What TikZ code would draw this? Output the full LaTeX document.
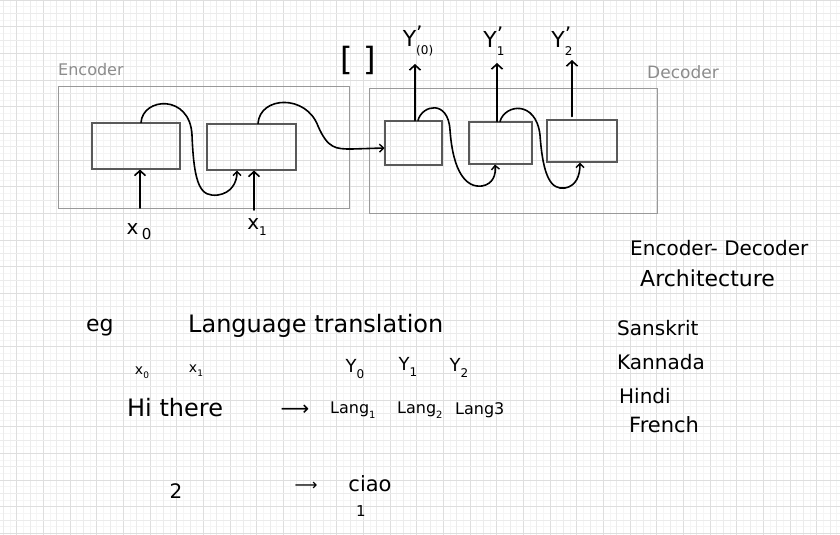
\documentclass[tikz,border=0pt]{standalone}
\usepackage{fontspec}
\setmainfont{DejaVu Sans}
\usetikzlibrary{arrows.meta}
\newcommand\fs[1]{\fontsize{#1}{#1}\selectfont}
\newcommand\yp[1]{Y\rlap{\raisebox{.3em}{\fs{20}\char"0027}}\raisebox{-.35em}{\fs{12}#1}}
\begin{document}
\begin{tikzpicture}[x=1pt,y=-1pt,
  gfine/.style={draw=black!4, line width=.5pt},
  gmid/.style={draw=black!8, line width=.7pt},
  gmaj/.style={draw=black!13, line width=.9pt},
  outer/.style={draw=black!40, line width=1pt},
  cell/.style={draw=black!65, line width=1.1pt, inner sep=0pt},
  hand/.style={draw=black, line width=1.6pt, line cap=round, line join=round},
  uparrow/.style={hand, -{Straight Barb[length=5pt,width=11pt,line width=1.6pt]}},
  curvearrow/.style={hand, -{Straight Barb[length=4pt,width=8pt,line width=1.4pt]}},
  txt/.style={inner sep=0pt, text=black},
  gtxt/.style={inner sep=0pt, text=black!45}]
\useasboundingbox (0,0) rectangle (840,535);
\fill[white] (0,0) rectangle (840,535);
% grid
\begin{scope}
\clip (0,0) rectangle (840,535);
\foreach \k in {0,...,126}{
  \pgfmathsetmacro\xx{-3.333+6.6667*\k}
  \draw[gfine] (\xx,0) -- (\xx,535);}
\foreach \k in {0,...,81}{
  \pgfmathsetmacro\yy{6.6667*\k}
  \draw[gfine] (0,\yy) -- (840,\yy);}
\foreach \k in {0,...,63}{
  \pgfmathsetmacro\xx{3.333+13.333*\k}
  \pgfmathtruncatemacro\m{mod(\k,2)}
  \ifnum\m=1 \draw[gmaj] (\xx,0) -- (\xx,535); \else \draw[gmid] (\xx,0) -- (\xx,535); \fi}
\foreach \k in {0,...,41}{
  \pgfmathsetmacro\yy{13.333*\k}
  \pgfmathtruncatemacro\m{mod(\k,2)}
  \ifnum\m=0 \draw[gmaj] (0,\yy) -- (840,\yy); \else \draw[gmid] (0,\yy) -- (840,\yy); \fi}
\end{scope}

% encoder / decoder frames
\node[outer, inner sep=0pt, minimum width=291pt, minimum height=122pt] (enc) at (203.5,147) {};
\node[outer, inner sep=0pt, minimum width=288pt, minimum height=125pt] (dec) at (513,150.5) {};
\node[gtxt, anchor=west] (enclab) at (58,70) {\fs{16}Encoder};
\node[gtxt, anchor=west] (declab) at (647,72) {\fs{17}Decoder};

% cells
\node[cell, minimum width=88pt, minimum height=46pt] (e1) at (136,146) {};
\node[cell, minimum width=89pt, minimum height=46pt] (e2) at (251.5,147) {};
\node[cell, minimum width=57pt, minimum height=44pt] (d1) at (413.5,143) {};
\node[cell, minimum width=63pt, minimum height=42pt] (d2) at (500.5,143) {};
\node[cell, minimum width=70pt, minimum height=42pt] (d3) at (582,141) {};

% encoder inputs
\node[txt] (x0) at (139,232) {\fs{20}x\,\raisebox{-.25em}{\fs{15}0}};
\node[txt] (x1) at (257,227) {\fs{20}x\raisebox{-.3em}{\fs{12}1}};
\coordinate (x0t) at (140,208);
\coordinate (x1t) at (254,210);
\draw[uparrow] (x0t) -- (x0t |- e1.south);
\draw[uparrow] (x1t) -- (x1t |- e2.south);

% bracket
\node[txt] (brk) at (358,60) {\fs{32}[ ]};

% recurrent connections
\draw[curvearrow] ([xshift=5pt]e1.north) .. controls (143,97) and (190,94) .. (192,135)
   .. controls (194,187) and (201,197) .. (218,195) .. controls (231,193) and (237,183) .. ([xshift=-14.5pt]e2.south);
\draw[curvearrow] ([xshift=6.5pt]e2.north) .. controls (260,96) and (306,94) .. (318,126)
   .. controls (328,149) and (336,149) .. (352,149) -- ([yshift=-5pt]d1.west);
\draw[curvearrow] ([xshift=4.5pt]d1.north) .. controls (422,105) and (448,99) .. (450,130)
   .. controls (453,172) and (466,188) .. (482,186) .. controls (493,184) and (496,175) .. ([xshift=-5.5pt]d2.south);
\draw[curvearrow] ([xshift=-0.5pt]d2.north) .. controls (505,104) and (536,100) .. (540,135)
   .. controls (543,177) and (551,190) .. (565,188) .. controls (576,186) and (580,176) .. ([xshift=-2pt]d3.south);

% decoder outputs
\node[txt] (y0) at (418,41) {\fs{22}\yp{(0)}};
\node[txt] (y1) at (494,41) {\fs{22}\yp{1}};
\node[txt] (y2) at (562,41) {\fs{22}\yp{2}};
\coordinate (y0t) at (415,64);
\coordinate (y1t) at (497,63);
\coordinate (y2t) at (572,60);
\draw[uparrow] (y0t |- d1.north) -- (y0t);
\draw[uparrow] (y1t |- d2.north) -- (y1t);
\draw[uparrow] ([yshift=3pt]y2t |- d3.north) -- (y2t);

% title
\node[txt, anchor=west] (t1) at (630,248) {\fs{20}Encoder- Decoder};
\node[txt, anchor=west] (t2) at (640,278) {\fs{22}Architecture};

% languages
\node[txt, anchor=west] (l1) at (617,328) {\fs{20}Sanskrit};
\node[txt, anchor=west] (l2) at (617,362) {\fs{20}Kannada};
\node[txt, anchor=west] (l3) at (619,396) {\fs{20}Hindi};
\node[txt, anchor=west] (l4) at (629,425) {\fs{21}French};

% example
\node[txt, anchor=west] (eg) at (86,328) {\fs{22}eg};
\node[txt, anchor=west] (lt) at (188,326) {\fs{24}Language translation};
\node[txt] (bx0) at (142,373) {\fs{14}x\raisebox{-.3em}{\fs{9}0}};
\node[txt] (bx1) at (196,371) {\fs{14}x\raisebox{-.3em}{\fs{9}1}};
\node[txt] (by0) at (355,369) {\fs{18}Y\raisebox{-.3em}{\fs{12}0}};
\node[txt] (by1) at (408,367) {\fs{18}Y\raisebox{-.3em}{\fs{12}1}};
\node[txt] (by2) at (459,368) {\fs{18}Y\raisebox{-.3em}{\fs{12}2}};
\node[txt, anchor=west] (hi) at (127,408) {\fs{24}Hi there};
\node[txt] (ar1) at (295,410) {\fs{20}⟶};
\node[txt, anchor=west] (lg1) at (330,410) {\fs{16}Lang\raisebox{-.3em}{\fs{10}1}};
\node[txt, anchor=west] (lg2) at (397,410) {\fs{16}Lang\raisebox{-.3em}{\fs{10}2}};
\node[txt, anchor=west] (lg3) at (455,410) {\fs{16}Lang3};
\node[txt] (two) at (176,491) {\fs{20}2};
\node[txt] (ar2) at (306,486) {\fs{16}⟶};
\node[txt] (ciao) at (370,484) {\fs{21}ciao};
\node[txt] (one) at (361,511) {\fs{15}1};
\end{tikzpicture}
\end{document}
